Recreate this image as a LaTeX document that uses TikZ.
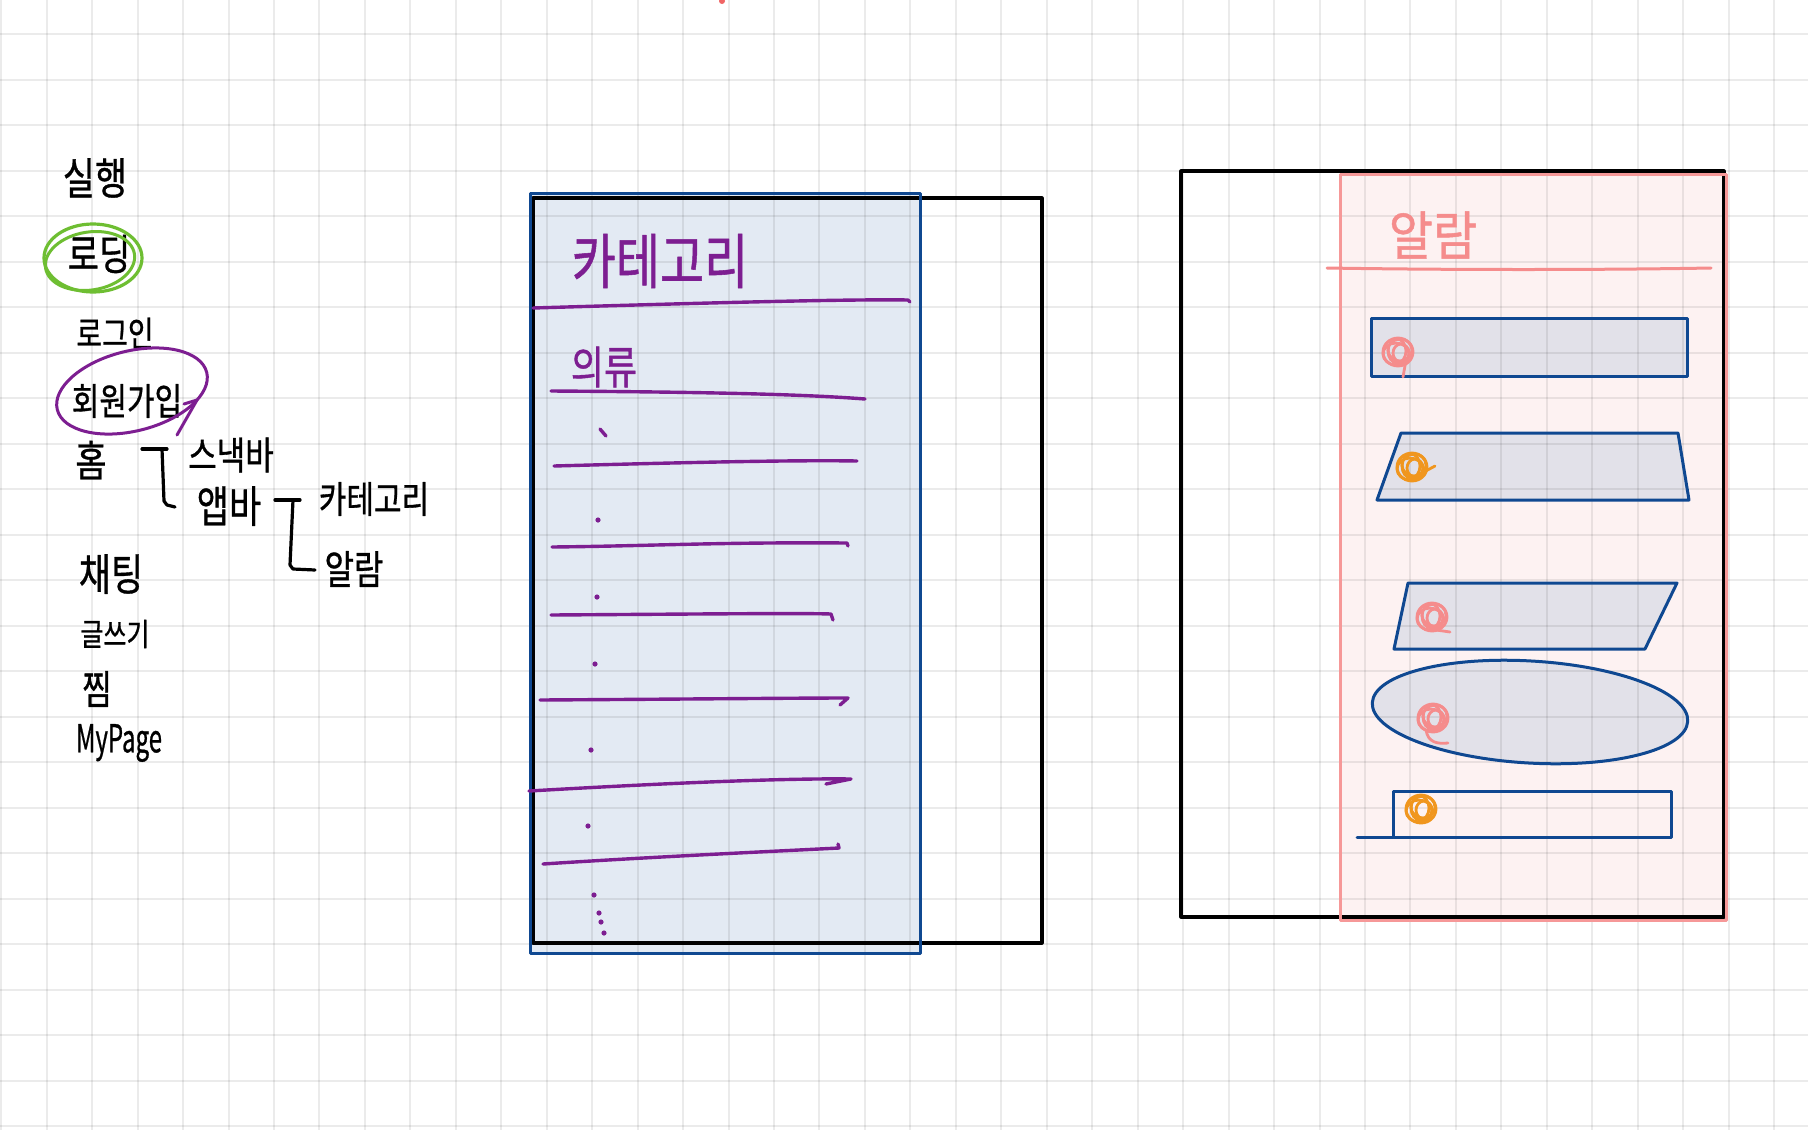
\documentclass[tikz,border=0pt]{standalone}
\usepackage{fontspec}
\setmainfont{Noto Sans CJK KR}[FakeBold=0.9]
\definecolor{blueline}{RGB}{15,72,145}
\definecolor{bluefill}{RGB}{227,234,243}
\definecolor{shapefill}{RGB}{226,225,233}
\definecolor{pinkline}{RGB}{246,152,152}
\definecolor{pinkfill}{RGB}{253,242,242}
\definecolor{penpurple}{RGB}{125,30,145}
\definecolor{pengreen}{RGB}{110,190,50}
\definecolor{penorange}{RGB}{240,150,30}
\definecolor{penpink}{RGB}{245,140,140}
\definecolor{markred}{RGB}{240,100,100}
\newcommand\hw[3][1.25]{{\fontsize{#2}{#2}\selectfont\scalebox{1}[#1]{#3}}}
\newcommand\scrib[3]{%
  \foreach \dx/\dy/\rx/\ry in {0/0/15/14, 2/-2/12/11, -2/2/13/11, 3/1/8/9, -1/-1/9/12}{%
    \draw[#3, line width=2.8pt] ({#1+\dx},{#2+\dy}) ellipse[x radius=\rx, y radius=\ry];}}
\tikzset{
  gridl/.style={draw=black, draw opacity=0.08, line width=2pt},
  blackline/.style={draw=black, line width=3.2pt},
  bluel/.style={draw=blueline, line width=3pt},
  pl/.style={draw=penpurple, line width=3.4pt, line cap=round},
  bk/.style={draw=black, line width=3.2pt, line cap=round, line join=round},
  lbl/.style={inner sep=0pt, anchor=center},
}
\begin{document}
\begin{tikzpicture}[x=1pt,y=-1pt, line join=round]
\useasboundingbox (0,0) rectangle (1808,1130);
\fill[white] (0,0) rectangle (1808,1130);
% panel fills
\fill[bluefill] (530,193) rectangle (920,953);
\fill[pinkfill] (1340,174) rectangle (1726,920);
% shape fills
\fill[shapefill] (1371,318) rectangle (1687,376);
\fill[shapefill] (1401,433) -- (1678,433) -- (1689,500) -- (1377,500) -- cycle;
\fill[shapefill] (1408,583) -- (1677,583) -- (1645,649) -- (1394,649) -- cycle;
\fill[shapefill, rotate around={-3.4:(1530,712)}] (1530,712) ellipse[x radius=158, y radius=51];
% grid
\foreach \i in {0,...,39} \draw[gridl] ({1.2+45.46*\i},0) -- ({1.2+45.46*\i},1130);
\foreach \j in {0,...,24} \draw[gridl] (0,{34.3+45.5*\j}) -- (1808,{34.3+45.5*\j});
% small red mark at top
\fill[markred] (722,1) circle[radius=3];
% category panel
\draw[blackline] (533,198) rectangle (1042,943);
\draw[bluel] (530,193) rectangle (920,953);
\node[lbl, text=penpurple] (cattitle) at (660,261) {\hw{48}{카테고리}};
\draw[pl] (533,308) .. controls (700,303) and (850,299) .. (908,300) -- (910,302);
\node[lbl, text=penpurple] (clothes) at (604,367) {\hw{36}{의류}};
\draw[pl] (551,391) .. controls (700,392) and (800,394) .. (865,399);
\draw[pl] (600,429) -- (606,436);
\draw[pl] (554,466) .. controls (700,462) and (800,460) .. (857,461);
\draw[pl] (552,547) .. controls (650,546) and (720,542) .. (847,543) -- (848,546);
\draw[pl] (551,615) .. controls (700,614) and (800,613) .. (831,614) -- (833,620);
\draw[pl] (540,700) .. controls (700,699) and (800,698) .. (848,698) -- (840,705);
\draw[pl] (529,791) .. controls (650,784) and (780,778) .. (851,779) -- (826,784);
\draw[pl] (543,864) .. controls (650,857) and (780,851) .. (839,848) -- (838,844);
\foreach \p in {(598,520),(597,597),(595,664),(591,750),(588,826),(594,895),(599,913),(601,922),(604,933)}
  \fill[penpurple] \p circle[radius=2.6];
% right panel
\draw[blackline] (1181,171) rectangle (1724,917);
\draw[pinkline, line width=3pt] (1340,174) rectangle (1726.5,920);
\node[lbl, text=penpink] (alarmtitle) at (1433,235) {\hw[1.1]{48}{알람}};
\draw[penpink, line width=3pt, line cap=round] (1327,268) .. controls (1450,270) and (1600,270) .. (1711,268);
\draw[bluel] (1371,318) rectangle (1687,376);
\draw[bluel] (1401,433) -- (1678,433) -- (1689,500) -- (1377,500) -- cycle;
\draw[bluel] (1408,583) -- (1677,583) -- (1645,649) -- (1394,649) -- cycle;
\draw[bluel, rotate around={-3.4:(1530,712)}] (1530,712) ellipse[x radius=158, y radius=51];
\draw[bluel] (1393,791) rectangle (1671,837);
\draw[bluel, line cap=round] (1357,837) -- (1393,837);
\scrib{1398}{352}{penpink}
\draw[penpink, line width=2.8pt, line cap=round] (1406,360) -- (1403,377);
\scrib{1412}{467}{penorange}
\draw[penorange, line width=2.8pt, line cap=round] (1422,473) -- (1435,466);
\scrib{1432}{617}{penpink}
\draw[penpink, line width=2.8pt, line cap=round] (1436,630) -- (1450,632);
\scrib{1433}{718}{penpink}
\draw[penpink, line width=2.8pt, line cap=round] (1426,730) .. controls (1428,743) and (1438,744) .. (1448,743);
\scrib{1421}{809}{penorange}
% left list
\node[lbl] (run) at (95,178) {\hw{35}{실행}};
\node[lbl] (loading) at (99,254) {\hw{34}{로딩}};
\draw[pengreen, line width=3.2pt] (93,258) ellipse[x radius=49, y radius=34];
\draw[pengreen, line width=3pt, rotate around={9:(90,261)}] (90,261) ellipse[x radius=45, y radius=29];
\node[lbl] (login) at (115,333) {\hw{28}{로그인}};
\node[lbl] (signup) at (127,401) {\hw{30}{회원가입}};
\draw[penpurple, line width=3pt, rotate around={14:(132,391)}] (132,391) ellipse[x radius=77, y radius=40];
\draw[penpurple, line width=3pt, line cap=round, line join=round] (184,404) -- (197,400) -- (177,435);
\node[lbl] (home) at (91,460) {\hw{34}{홈}};
\node[lbl] (snackbar) at (231,455) {\hw{31}{스낵바}};
\node[lbl] (appbar) at (229,506) {\hw{35}{앱바}};
\node[lbl] (category) at (374,499) {\hw{30}{카테고리}};
\node[lbl] (alarm) at (354,569) {\hw{32}{알람}};
\node[lbl] (chat) at (111,574) {\hw{35}{채팅}};
\node[lbl] (write) at (115,634) {\hw{25}{글쓰기}};
\node[lbl] (fav) at (97,689) {\hw{32}{찜}};
\node[lbl] (mypage) at (119,743) {\hw[1.6]{24}{MyPage}};
% brackets
\coordinate (b1t) at (142,449);
\coordinate (b1e) at (175,507);
\draw[bk] (b1t) -- (167,449);
\draw[bk] (162,449) -- (164,501) -- (167,505) -- (b1e);
\coordinate (b2t) at (275,500);
\coordinate (b2e) at (315,570);
\draw[bk] (b2t) -- (300,500);
\draw[bk] (293,500) -- (290,565) -- (293,569) -- (b2e);
\end{tikzpicture}
\end{document}
